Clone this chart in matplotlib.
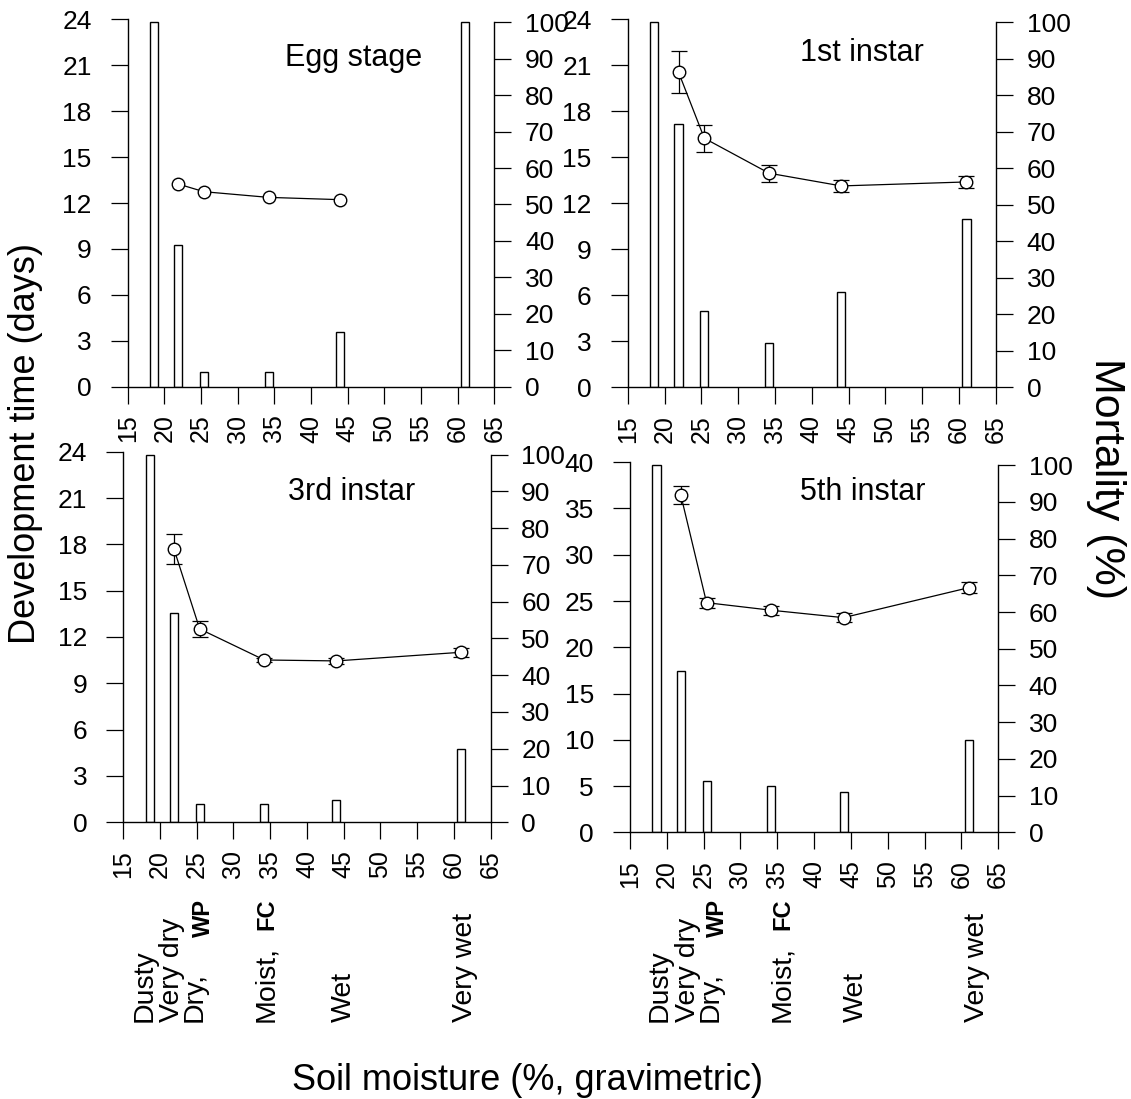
import matplotlib
matplotlib.use("Agg")
import matplotlib.pyplot as plt
import matplotlib.transforms as mtransforms

# ---------------- data ----------------
moisture = [18.6, 21.9, 25.4, 34.2, 44.0, 61.0]          # soil moisture (% gravimetric)
x_ticks = [15, 20, 25, 30, 35, 40, 45, 50, 55, 60, 65]
mort_ticks = [0, 10, 20, 30, 40, 50, 60, 70, 80, 90, 100]
dev_ticks_small = [0, 3, 6, 9, 12, 15, 18, 21, 24]
dev_ticks_5th = [0, 5, 10, 15, 20, 25, 30, 35, 40]

stages = ["Egg stage", "1st instar", "3rd instar", "5th instar"]

# mortality (%) at each moisture level
mort_egg = [100, 39, 4, 4, 15, 100]
mort_1st = [100, 72, 21, 12, 26, 46]
mort_3rd = [100, 57, 5, 5, 6, 20]
mort_5th = [100, 44, 14, 12.5, 11, 25]

# development time (days) mean +/- SE, from "Very dry" onward
dev_egg = [13.24, 12.74, 12.37, 12.22]
err_egg = [0.0, 0.0, 0.0, 0.0]
dev_1st = [20.55, 16.24, 13.96, 13.13, 13.39]
err_1st = [1.35, 0.89, 0.55, 0.40, 0.41]
dev_3rd = [17.70, 12.52, 10.51, 10.45, 11.01]
err_3rd = [1.00, 0.52, 0.15, 0.20, 0.30]
dev_5th = [36.46, 24.82, 24.00, 23.20, 26.44]
err_5th = [0.95, 0.53, 0.50, 0.48, 0.57]

categories = ["Dusty", "Very dry", "Dry,", "Moist,", "Wet", "Very wet"]
bold_marks = ["WP", "FC"]

# ---------------- layout ----------------
W, H = 1131, 1099
fig = plt.figure(figsize=(W / 100, H / 100), dpi=100)

FONT = ["Liberation Sans", "DejaVu Sans"]

rects = [
    [0.1129, 0.6481, 0.3243, 0.3343],
    [0.5550, 0.6476, 0.3256, 0.3349],
    [0.1090, 0.2518, 0.3248, 0.3372],
    [0.5570, 0.2427, 0.3256, 0.3367],
]
title_pos = [(0.617, 0.874), (0.635, 0.887), (0.622, 0.870), (0.633, 0.898)]

panel_data = [
    (mort_egg, dev_egg, err_egg, dev_ticks_small),
    (mort_1st, dev_1st, err_1st, dev_ticks_small),
    (mort_3rd, dev_3rd, err_3rd, dev_ticks_small),
    (mort_5th, dev_5th, err_5th, dev_ticks_5th),
]

axes = []
for i, (rect, stage, tpos, (mort, dev, err, yt)) in enumerate(
        zip(rects, stages, title_pos, panel_data)):
    ax = fig.add_axes(rect)
    tw = ax.twinx()
    ax.set_zorder(tw.get_zorder() + 1)
    ax.patch.set_visible(False)

    tw.bar(moisture, mort, width=1.1, color="white", edgecolor="black",
           linewidth=1.0, zorder=2)
    n = len(dev)
    xs = moisture[1:1 + n]
    if max(err) > 0:
        ax.errorbar(xs, dev, yerr=err, fmt="none", ecolor="black",
                    elinewidth=0.9, capsize=6, capthick=0.9, zorder=3)
    ax.plot(xs, dev, "-o", color="black", mfc="white", mec="black",
            ms=9, mew=1.0, lw=0.9, zorder=4)

    ax.set_xlim(15, 65)
    ax.set_ylim(yt[0], yt[-1])
    ax.set_xticks(x_ticks)
    ax.set_xticklabels([str(v) for v in x_ticks], rotation=90)
    ax.set_yticks(yt)
    tw.set_ylim(0, 100.8)
    tw.set_yticks(mort_ticks)

    for s in ["top", "right"]:
        ax.spines[s].set_visible(False)
    for s in ["top", "left", "bottom"]:
        tw.spines[s].set_visible(False)
    for sp in [ax.spines["left"], ax.spines["bottom"], tw.spines["right"]]:
        sp.set_linewidth(1.0)
    tw.spines["right"].set_bounds(0, 100)

    ax.tick_params(axis="x", direction="out", length=12, width=0.9, pad=8,
                   labelsize=18, labelfontfamily="Liberation Sans")
    ax.tick_params(axis="y", direction="out", length=12, width=0.9, pad=14,
                   labelsize=19, labelfontfamily="Liberation Sans")
    tw.tick_params(axis="y", direction="out", length=12, width=0.9, pad=10,
                   labelsize=19, labelfontfamily="Liberation Sans")

    ax.text(tpos[0], tpos[1], stage, transform=ax.transAxes, ha="center",
            va="baseline", fontsize=22, family=FONT)
    axes.append(ax)

# ---------------- moisture-class labels under the bottom panels ----------------
label_x = {
    2: [17.9, 21.6, 24.7, 34.5, 45.0, 61.5],
    3: [19.0, 22.9, 26.0, 35.6, 45.7, 62.1],
}
mark_x = {2: [25.95, 34.6], 3: [26.9, 35.7]}
y_base = 1 - 1022 / H
mark_y = [1 - 937 / H, 1 - 930 / H]
for k in (2, 3):
    ax = axes[k]
    tr = mtransforms.blended_transform_factory(ax.transData, fig.transFigure)
    for lab, xv in zip(categories, label_x[k]):
        fig.text(xv, y_base, lab, transform=tr, rotation=90, ha="center",
                 va="bottom", fontsize=20.5, family=FONT)
    for lab, xv, yv in zip(bold_marks, mark_x[k], mark_y):
        fig.text(xv, yv, lab, transform=tr, rotation=90, ha="center",
                 va="bottom", fontsize=17, fontweight="bold", family=FONT)

# ---------------- axis titles ----------------
fig.text(26 / W, 1 - 443 / H, "Development time (days)", rotation=90,
         ha="center", va="center", fontsize=26, family=FONT)
fig.text(1106 / W, 1 - 478 / H, "Mortality (%)", rotation=-90,
         ha="center", va="center", fontsize=31, family=FONT)
fig.text(528 / W, 1 - 1080 / H, "Soil moisture (%, gravimetric)",
         ha="center", va="center", fontsize=26, family=FONT)

fig.savefig("out.png", dpi=100, facecolor="white")
